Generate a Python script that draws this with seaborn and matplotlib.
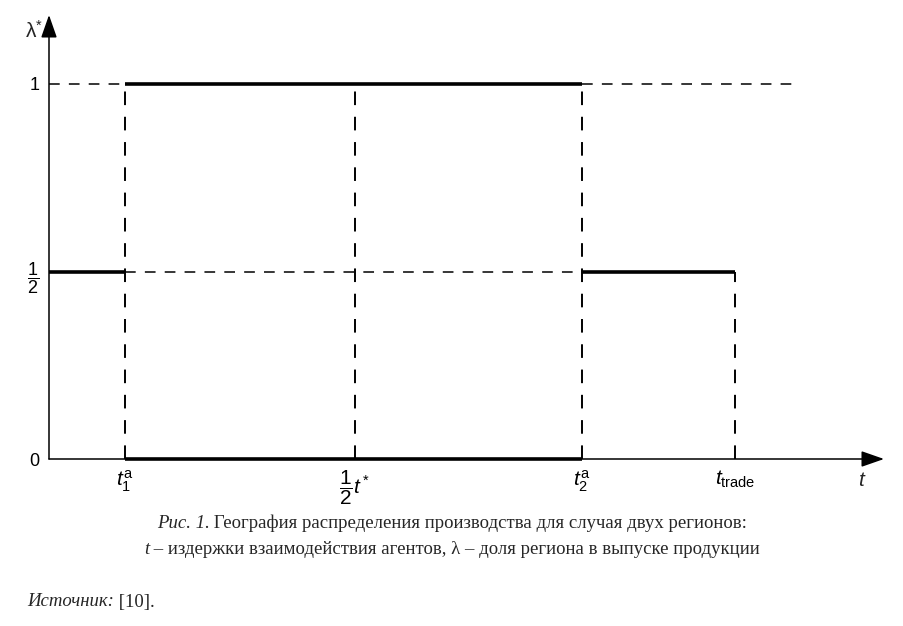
import matplotlib
matplotlib.use("Agg")
import matplotlib.pyplot as plt
import seaborn as sns

# Values (x in arbitrary cost units)
x_marks = [0.76, 3.06, 5.33, 6.86]
x_labels = [r"$t_1^{\mathrm{a}}$", r"$\dfrac{1}{2}t^*$", r"$t_2^{\mathrm{a}}$", r"$t_{\mathrm{trade}}$"]
y_marks = [0, 0.5, 1]
y_labels = ["0", r"$\dfrac{1}{2}$", "1"]
x_dash_end = 7.46
x_max = 8.35
y_max = 1.184

# Solid segments of lambda*: (x pair, y pair)
solid_x = [[0, x_marks[0]], [x_marks[0], x_marks[2]], [x_marks[0], x_marks[2]], [x_marks[2], x_marks[3]]]
solid_y = [[0.5, 0.5], [1, 1], [0, 0], [0.5, 0.5]]

# Dashed guide lines
dash_x = [[0, x_marks[0]], [x_marks[2], x_dash_end], [x_marks[0], x_marks[2]],
          [x_marks[0], x_marks[0]], [x_marks[1], x_marks[1]], [x_marks[2], x_marks[2]], [x_marks[3], x_marks[3]]]
dash_y = [[1, 1], [1, 1], [0.5, 0.5], [0, 1], [0, 1], [0, 1], [0, 0.5]]

sns.set_theme(style="white")
plt.rcParams["font.family"] = ["Liberation Sans", "DejaVu Sans"]
plt.rcParams["mathtext.fontset"] = "custom"
plt.rcParams["mathtext.rm"] = "Liberation Sans"
plt.rcParams["mathtext.it"] = "Liberation Sans:italic"
plt.rcParams["mathtext.bf"] = "Liberation Sans:bold"

fig = plt.figure(figsize=(9.04, 6.26), dpi=100)
ax = fig.add_axes([49 / 904, 1 - 459 / 626, (884 - 49) / 904, (459 - 15) / 626])

for xs, ys in zip(dash_x, dash_y):
    lw = 1.4 if xs[0] == xs[1] else 1.1
    sns.lineplot(x=xs, y=ys, ax=ax, color="black", lw=lw, linestyle=(0, (7, 6)),
                 estimator=None, sort=False, clip_on=False)
for xs, ys in zip(solid_x, solid_y):
    sns.lineplot(x=xs, y=ys, ax=ax, color="black", lw=2.6, estimator=None, sort=False,
                 clip_on=False, solid_capstyle="butt")

ax.set_xlim(0, x_max)
ax.set_ylim(0, y_max)
ax.set_xticks(x_marks, x_labels, fontsize=15)
ax.set_yticks(y_marks, y_labels, fontsize=13)
ax.tick_params(axis="both", length=0, colors="black")
ax.tick_params(axis="x", pad=7)
ax.tick_params(axis="y", pad=7)
for side in ["top", "right", "left", "bottom"]:
    ax.spines[side].set_visible(False)
ax.set_xlabel("")
ax.set_ylabel("")

# axes with arrow heads
arrow = dict(arrowstyle="-|>,head_length=1.0,head_width=0.35", color="black", lw=1.1,
             mutation_scale=14, shrinkA=0, shrinkB=0)
ax.annotate("", xy=(0, 1), xytext=(0, 0), xycoords="axes fraction", arrowprops=arrow)
ax.annotate("", xy=(1, 0), xytext=(0, 0), xycoords="axes fraction", arrowprops=arrow)

fig.text(34 / 904, 1 - 31 / 626, r"λ$^{*}$", fontsize=15, ha="center", va="center")
fig.text(862 / 904, 1 - 480 / 626, r"$t$", fontsize=15, ha="center", va="center")

# Caption with mixed italic / upright parts
serif = ["Liberation Serif", "DejaVu Serif"]
renderer = fig.canvas.get_renderer()


def mixed_line(parts, y_px, x_px=None, center=True, size=13.5):
    texts = []
    for s, style in parts:
        t = fig.text(0, 1 - y_px / 626, s, fontsize=size, family=serif, style=style,
                     va="center", ha="left")
        texts.append(t)
    widths = [t.get_window_extent(renderer).width for t in texts]
    total = sum(widths)
    x0 = 452 - total / 2 if center else x_px
    for t, w in zip(texts, widths):
        t.set_x(x0 / 904)
        x0 += w


mixed_line([("Рис. 1.", "italic"), (" География распределения производства для случая двух регионов:", "normal")], 523)
mixed_line([("t", "italic"), (" – издержки взаимодействия агентов, λ – доля региона в выпуске продукции", "normal")], 549)
mixed_line([("Источник:", "italic"), (" [10].", "normal")], 602, x_px=27, center=False)

fig.savefig("out.png", dpi=100)
